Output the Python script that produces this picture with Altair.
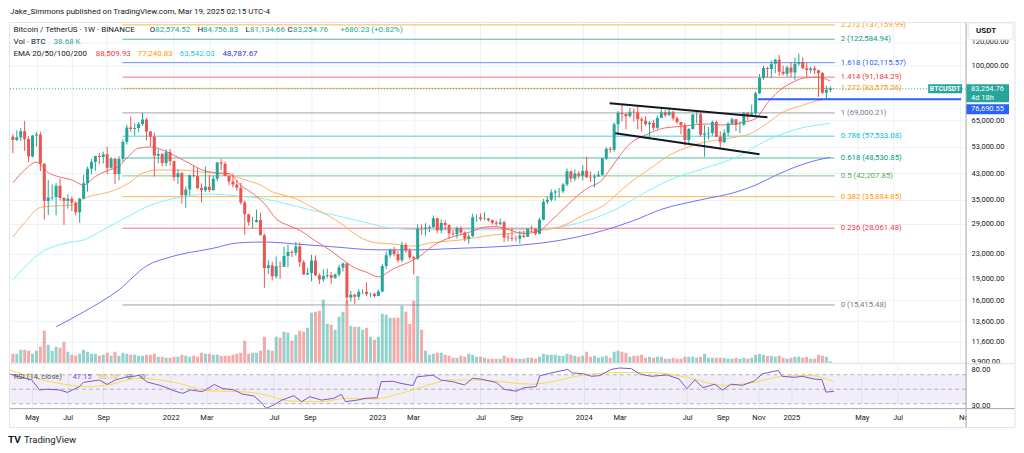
import altair as alt
import pandas as pd

FONT = "Roboto"
INK = "#131722"
GREEN = "#26a69a"
RED = "#ef5350"
GRID = "#edf1f7"
FRAME = "#e0e3eb"
SEP = "#a3a6af"
W, H_PRICE, H_RSI = 959, 341, 44

# ---------------- data ----------------
week_start = [d.strftime("%Y-%m-%d") for d in pd.date_range("2021-03-22", periods=209, freq="7D")]
first_open = 57350

closes = [
    # 2021 (from Mar 22)
    55820, 57060, 59770, 56250, 49100, 57800, 58240, 46430, 34680, 35680,
    35800, 39100, 35500, 34700, 35290, 34240, 31780, 35400, 39880, 44600,
    47080, 49300, 48900, 49940, 45000, 48300, 42800, 48200, 54950, 61530,
    60850, 61300, 63270, 65500, 59700, 57270, 49400, 50100, 46680, 50780,
    47290,
    # 2022
    41860, 43080, 36280, 37920, 42410, 42200, 38380, 37700, 38790, 37780,
    41260, 46830, 46400, 42150, 40380, 39450, 38470, 34280, 31300, 29450,
    29450, 29920, 26570, 20550, 21030, 19300, 20850, 20790, 22580, 23300,
    23180, 24310, 21530, 19560, 19800, 21800, 19420, 18800, 19310, 19420,
    19070, 19570, 20630, 21300, 16330, 16700, 16430, 17090, 17100, 16780,
    16840, 16540,
    # 2023
    17130, 20880, 22700, 23740, 22930, 21860, 24630, 23560, 22350, 22120,
    27980, 27940, 28170, 28320, 30300, 27590, 29230, 28780, 26930, 26750,
    28080, 27120, 25840, 26340, 30540, 30590, 30170, 30290, 29860, 29280,
    29040, 29410, 26090, 26010, 25860, 25840, 26530, 26250, 27970, 27920,
    26850, 29990, 34500, 35010, 37060, 37360, 37450, 39470, 43790, 41360,
    43010, 42280,
    # 2024
    43930, 41730, 41580, 42030, 42580, 48300, 52140, 51730, 63110, 68950,
    68390, 67210, 69650, 69360, 65660, 64940, 63120, 63900, 61480, 66270,
    69290, 67760, 69650, 66220, 64260, 62680, 55850, 60800, 68160, 68250,
    58160, 58710, 58970, 64220, 57300, 54850, 59130, 63580, 65600, 62820,
    62850, 69030, 68020, 68780, 80370, 90580, 97900, 97190, 101170, 104460,
    95190, 93720, 98300,
    # 2025
    94510, 101330, 102620, 97700, 96460, 97570, 96250, 94270, 80730, 82574.52,
    83254.76,
]
highs = [
    58400, 60200, 61300, 64850, 57500, 58000, 59500, 59600, 46600, 40840,
    39480, 40000, 41330, 35750, 36600, 35950, 34700, 35500, 42600, 45300,
    48150, 49380, 50500, 51050, 52920, 48850, 48500, 49250, 56000, 62900,
    67000, 63700, 64300, 69000, 66300, 59900, 59200, 51950, 50400, 51900,
    52100,
    47570, 44450, 43500, 38900, 42660, 45850, 44750, 39850, 45400, 42600,
    42350, 47000, 48190, 47200, 42450, 42950, 40800, 40000, 34800, 31330,
    30670, 32400, 31700, 26880, 21870, 21580, 22500, 21650, 24300, 24670,
    23650, 25200, 25130, 21880, 20580, 22800, 22700, 19700, 20350, 20480,
    19950, 19700, 21080, 21480, 21450, 17190, 16810, 17420, 17430, 18390,
    16960, 16950,
    17400, 21260, 23370, 23950, 24250, 23450, 25250, 25020, 24000, 22600,
    28950, 28870, 29190, 28700, 31000, 30500, 30040, 29850, 28890, 27660,
    28450, 28450, 27400, 26800, 31430, 31280, 31500, 31800, 30400, 30000,
    29750, 30250, 29690, 26850, 28140, 26440, 27480, 27480, 28060, 28600,
    28000, 30400, 35280, 35980, 37980, 37980, 38450, 39880, 44700, 44000,
    44400, 43800,
    45880, 49050, 43580, 42840, 43880, 48600, 52820, 52980, 64000, 69990,
    73780, 68930, 71770, 71350, 72800, 66870, 67230, 64740, 65500, 67700,
    71950, 70600, 71950, 70200, 66950, 63860, 63850, 61400, 68380, 69400,
    70080, 62740, 61800, 65000, 64960, 59800, 60660, 64130, 66500, 65550,
    64480, 69400, 69520, 73620, 81500, 93480, 99590, 98940, 103900, 105250,
    108350, 99960, 99800,
    102720, 106000, 109590, 106460, 102500, 98830, 99500, 96500, 95000, 85300,
    84756.83,
]
lows = [
    50430, 55400, 55470, 51300, 47000, 48800, 53000, 43800, 30000, 31100,
    34800, 31000, 34800, 28800, 32700, 32070, 31000, 29280, 35200, 37330,
    42800, 43950, 46300, 46500, 42850, 44700, 39600, 40750, 47100, 53900,
    59550, 57800, 59400, 62300, 55600, 53250, 42000, 46600, 45500, 45550,
    45700,
    40600, 39650, 34000, 32900, 36250, 41700, 38000, 34320, 37200, 37150,
    37550, 40470, 44200, 42100, 39200, 38550, 37580, 33700, 26700, 28600,
    28000, 29300, 26560, 17620, 19600, 18650, 19000, 18900, 20750, 20700,
    22400, 22650, 20750, 19530, 19520, 18540, 19320, 18150, 18470, 19000,
    18190, 18900, 19250, 20040, 15590, 15820, 15476, 16050, 16750, 16550,
    16400, 16330,
    16500, 17000, 20400, 22300, 22500, 21450, 21530, 23100, 21970, 19550,
    21900, 26600, 26500, 27200, 28170, 27000, 26950, 27650, 25800, 26350,
    25880, 26600, 25300, 24800, 26250, 29500, 29700, 29950, 29500, 28850,
    28580, 28700, 25170, 25350, 25340, 25330, 24900, 26010, 26150, 27170,
    26530, 26780, 29850, 33850, 34520, 34800, 35630, 36870, 38980, 40180,
    40500, 41300,
    40750, 41500, 40280, 38550, 41880, 42260, 47700, 50520, 50900, 59000,
    64550, 60760, 66500, 64490, 60660, 59600, 62400, 56550, 60190, 60750,
    66600, 66670, 67600, 65080, 63380, 58400, 53480, 54250, 60630, 63450,
    57120, 49000, 56080, 57790, 57200, 52550, 54580, 57500, 62700, 59830,
    58900, 62450, 65050, 67480, 66830, 79800, 89380, 90790, 90500, 94150,
    92180, 92500, 91530,
    91200, 89250, 99550, 97000, 91230, 94100, 93390, 78260, 80000, 76606,
    81134.66,
]
volume_k = [  # thousand BTC per week
    225, 225, 325, 325, 300, 225, 300, 400, 800, 450,
    300, 400, 375, 525, 275, 200, 175, 225, 325, 275,
    225, 225, 175, 200, 250, 175, 275, 175, 250, 225,
    200, 200, 175, 175, 200, 200, 225, 150, 150, 125,
    125, 150, 150, 200, 175, 150, 175, 150, 250, 225,
    225, 200, 200, 175, 175, 175, 200, 225, 250, 550,
    225, 250, 250, 300, 650, 325, 300, 650, 625, 775,
    750, 550, 700, 800, 775, 875, 1250, 1275, 1300, 1575,
    975, 950, 825, 1150, 1275, 1550, 925, 900, 900, 825,
    875, 650, 575, 650, 1225, 1200, 1125, 1125, 1125, 1425,
    1275, 975, 1550, 2175, 825, 300, 200, 225, 250, 250,
    200, 175, 125, 125, 175, 150, 225, 200, 150, 150,
    125, 100, 100, 100, 100, 175, 125, 125, 100, 100,
    100, 125, 125, 100, 150, 225, 200, 200, 200, 175,
    175, 225, 200, 175, 150, 175, 275, 150, 175, 125,
    150, 175, 125, 275, 300, 275, 250, 150, 175, 175,
    200, 125, 150, 125, 150, 150, 100, 100, 125, 100,
    100, 150, 150, 150, 125, 150, 225, 125, 125, 125,
    125, 125, 100, 100, 125, 100, 125, 100, 125, 200,
    225, 200, 175, 175, 150, 175, 125, 100, 125, 150,
    150, 125, 150, 100, 100, 200, 175, 150, 38.68,
]
assert len(closes) == len(highs) == len(lows) == len(volume_k) == len(week_start) == 209

# EMA readings (bar index -> value)
ema20_idx = [0, 3, 6, 9, 12, 15, 18, 21, 24, 27, 29, 32, 35, 38, 42, 45, 48, 52, 55, 58,
             61, 64, 67, 70, 73, 77, 81, 84, 87, 90, 93, 97, 100, 103, 107, 111, 114, 117, 120, 123,
             126, 130, 134, 137, 140, 143, 146, 150, 152, 154, 156, 158, 160, 162, 165, 168, 171, 174, 177, 180,
             183, 186, 189, 192, 195, 198, 201, 204, 206, 208]
ema20_val = [40000, 44200, 47000, 43300, 41800, 40900, 39300, 42000, 44000, 45500, 48500, 52400, 52900, 51700, 48800, 46500, 44300, 43200, 43000, 39200,
             36800, 34000, 30200, 28700, 27600, 25400, 23500, 21900, 20600, 19900, 19200, 20500, 21300, 22300, 24500, 26000, 26700, 27400, 28300, 28400,
             27800, 26900, 27500, 29800, 32500, 35500, 38200, 41000, 44500, 48500, 52500, 55500, 57300, 58800, 61000, 61800, 62300, 63000, 63300, 62800,
             63100, 64200, 66000, 74500, 82000, 87000, 90400, 91200, 90600, 88509.93]
ema50_idx = [0, 3, 7, 11, 15, 19, 23, 26, 30, 33, 37, 42, 48, 55, 60, 63, 66, 69, 72, 76,
             80, 84, 88, 92, 97, 102, 106, 114, 122, 130, 139, 145, 151, 155, 159, 163, 167, 172, 176, 180,
             184, 188, 192, 196, 201, 204, 207, 208]
ema50_val = [26200, 29300, 33000, 33400, 33600, 35800, 36800, 37800, 40300, 43100, 44200, 44200, 43500, 42500, 40600, 39300, 37300, 36300, 35300, 33100,
             31100, 28800, 26300, 25100, 24800, 24400, 25000, 25600, 26600, 27200, 28300, 31000, 34000, 38000, 41800, 45500, 49500, 53000, 54900, 56000,
             57100, 58900, 63700, 69500, 73200, 75500, 76800, 77240.83]
ema100_idx = [0, 7, 15, 18, 23, 30, 34, 43, 50, 57, 64, 69, 76, 83, 89, 96, 106, 122, 135, 139,
              145, 153, 160, 167, 176, 184, 192, 201, 208]
ema100_val = [18750, 23100, 25200, 25600, 27700, 31100, 33100, 35800, 36600, 36100, 35300, 34100, 32300, 30800, 29500, 28100, 27700, 27700, 27900, 28300,
              29500, 32300, 36500, 40800, 44800, 48800, 55800, 61500, 63542.03]
ema200_idx = [11, 18, 27, 34, 40, 51, 57, 64, 69, 72, 81, 93, 102, 114, 126, 139, 150, 158, 165, 175,
              184, 189, 194, 199, 204, 208]
ema200_val = [13000, 14600, 17350, 20900, 22400, 24000, 25000, 25200, 25000, 24800, 24300, 23700, 23700, 24000, 24400, 25500, 27500, 29800, 32500, 35000,
              37200, 39300, 42300, 45200, 47500, 48787.67]

# RSI(14) and its moving average (bar index -> value)
rsi_idx = [0, 3, 6, 8, 10, 13, 15, 18, 19, 23, 25, 27, 30, 32, 33, 35, 38, 40, 42, 44,
           46, 49, 52, 54, 57, 59, 62, 64, 65, 67, 69, 72, 74, 76, 79, 82, 84, 85, 88, 90,
           93, 94, 97, 99, 102, 103, 107, 109, 112, 115, 117, 119, 123, 125, 128, 130, 133, 134, 137, 141,
           142, 145, 147, 149, 152, 154, 157, 159, 162, 166, 169, 171, 173, 175, 178, 180, 182, 185, 188, 190,
           194, 195, 198, 200, 203, 205, 206, 207, 208]
rsi_val = [71.8, 67, 63, 49, 50, 49, 45.6, 53.5, 59.4, 62.7, 56.6, 62.7, 67, 68, 69.5, 60, 55.8, 52, 47.5, 44.3,
           49, 46.6, 56.6, 51, 49, 43.4, 40.6, 30.5, 23.6, 28.2, 35, 41, 32.8, 39.7, 35, 37.4, 42.9, 32.8, 35, 37.4,
           38.3, 60.4, 61, 58, 55, 67, 69.5, 62.7, 60.4, 55.8, 65, 64.1, 59.3, 49.8, 47.3, 52.1, 53.5, 68.8, 72.6, 77.4,
           72.6, 71.2, 67.8, 68.8, 77.4, 79.3, 78.4, 71.2, 67.8, 69.7, 64.1, 50.8, 63.1, 52.1, 56.9, 48.8, 56.9, 55.4, 61.7, 71.2,
           75.9, 67.8, 66.4, 67.8, 64.1, 63.1, 46.0, 46.6, 47.15]
rsima_idx = [0, 13, 20, 25, 33, 42, 51, 59, 65, 71, 79, 85, 92, 99, 106, 111, 119, 132, 136, 145,
             154, 162, 171, 180, 188, 195, 202, 208]
rsima_val = [76.9, 58, 53.5, 55.8, 65, 59.4, 47.5, 46.6, 42, 33.7, 32.8, 37.4, 36.5, 44.3, 55.8, 62.7, 62.5, 56.9, 59.3, 69.7,
             73, 73, 66.4, 55.4, 59.3, 67.8, 68.8, 60.16]

# Fibonacci extension levels
fib_ratio = ["2.272", "2", "1.618", "1.414", "1.272", "1", "0.786", "0.618", "0.5", "0.382", "0.236", "0"]
fib_price = [137159.99, 122584.94, 102115.57, 91184.29, 83575.26, 69000.21, 57533.08, 48530.85, 42207.85, 35884.85, 28061.48, 15415.48]
fib_color = ["#ff9800", "#089981", "#2962ff", "#f23645", "#ff9800", "#787b86", "#00bcd4", "#089981", "#4caf50", "#ff9800", "#f23645", "#787b86"]
fib_start, fib_end = "2021-10-03", "2025-03-25"

# drawn trend lines (channel)
trend_line = ["upper", "upper", "lower", "lower"]
trend_date = ["2024-02-18", "2024-11-25", "2024-02-28", "2024-11-11"]
trend_price = [74370, 66700, 58890, 50010]

support_price = 76690.55
support_start = "2024-11-08"
last_price = 83254.76

price_ticks = [9900, 11600, 13600, 16000, 19000, 23000, 29000, 35000, 43000, 53000, 65000, 100000, 120000]
tick_dates = ["2021-05-03", "2021-07-05", "2021-09-06", "2022-01-03", "2022-03-07", "2022-07-04", "2022-09-05",
              "2023-01-02", "2023-03-06", "2023-07-03", "2023-09-04", "2024-01-01", "2024-03-04", "2024-07-01",
              "2024-09-02", "2024-11-04", "2025-01-01", "2025-05-05", "2025-07-07", "2025-11-03"]


def ms(s):
    return int(pd.Timestamp(s, tz="UTC").value // 10**6)


X_END = "2025-11-05"
XS = alt.Scale(type="utc", domain=[ms("2021-03-24"), ms(X_END)], nice=False)
PS = alt.Scale(type="log", domain=[9822, 139800], nice=False)
VS = alt.Scale(domain=[0, 8525], nice=False, zero=True)
RS = alt.Scale(domain=[23.2, 83.8], nice=False, zero=False)
tick_ms = [ms(d) for d in tick_dates]

# identical axis definitions are given to every layer that uses a scale
PRICE_AXIS = alt.Axis(orient="right", values=price_ticks, format=",.2f", labelAlign="left", labelPadding=5,
                      ticks=False, domain=False, grid=True, gridColor=GRID, title=None, labelFlush=False,
                      labelOverlap=False, labelFontSize=7.5, labelColor=INK, labelFont=FONT)
PRICE_X_AXIS = alt.Axis(title=None, labels=False, ticks=False, domain=False, grid=True, gridColor=GRID,
                        values=tick_ms)
RSI_AXIS = alt.Axis(orient="right", values=[80, 30], format=".2f", labelAlign="left", labelPadding=5,
                    labelOffset=2, ticks=False, domain=False, grid=False, title=None, labelFlush=False,
                    labelFontSize=7.5, labelColor=INK, labelFont=FONT)
X_AXIS = alt.Axis(values=tick_ms, title=None, ticks=False, domain=False, grid=True, gridColor=GRID,
                  labelPadding=5, labelFlush=False, labelOverlap=False, labelFontSize=7.5, labelColor=INK,
                  labelFont=FONT,
                  labelExpr="utcFormat(datum.value, '%m') == '01' ? utcFormat(datum.value, '%Y') : utcFormat(datum.value, '%b')")

opens = [first_open] + closes[:-1]
candles = pd.DataFrame({"date": week_start, "open": opens, "high": highs, "low": lows,
                        "close": closes, "vol": volume_k})
candles["dir"] = ["up" if c >= o else "down" for o, c in zip(opens, closes)]
DIR_COLOR = alt.Color("dir:N", scale=alt.Scale(domain=["up", "down"], range=[GREEN, RED]), legend=None)


def xenc(field="date:T"):
    return alt.X(field, scale=XS, axis=PRICE_X_AXIS)


def yenc(field):
    return alt.Y(field, type="quantitative", scale=PS, axis=PRICE_AXIS)


def txt(s, x, y, color=INK, size=8, weight="normal", align="left", baseline="middle", font=FONT):
    return alt.Chart(pd.DataFrame({"t": [s]})).mark_text(
        align=align, baseline=baseline, fontSize=size, fontWeight=weight, color=color, font=font
    ).encode(x=alt.value(x), y=alt.value(y), text="t:N")


def box(x1, x2, y1, y2, fill, stroke=None, radius=0, fill_opacity=1.0):
    kw = dict(fill=fill, cornerRadius=radius, fillOpacity=fill_opacity)
    if stroke:
        kw.update(stroke=stroke, strokeWidth=1)
    return alt.Chart(pd.DataFrame({"a": [0]})).mark_rect(**kw).encode(
        x=alt.value(x1), x2=alt.value(x2), y=alt.value(y1), y2=alt.value(y2))


def hline(x1, x2, y, color, width=1):
    return alt.Chart(pd.DataFrame({"a": [0]})).mark_rule(color=color, strokeWidth=width).encode(
        x=alt.value(x1), x2=alt.value(x2), y=alt.value(y))


def vline(x, y1, y2, color, width=1):
    return alt.Chart(pd.DataFrame({"a": [0]})).mark_rule(color=color, strokeWidth=width).encode(
        x=alt.value(x), y=alt.value(y1), y2=alt.value(y2))


def price_box(price, x1, x2, off1, off2, fill):
    return alt.Chart(pd.DataFrame({"p": [price]})).mark_rect(fill=fill, yOffset=off1, y2Offset=off2).encode(
        x=alt.value(x1), x2=alt.value(x2), y=yenc("p"), y2="p:Q")


def price_txt(s, price, x, dy, align="left", size=7.5, weight="normal"):
    return alt.Chart(pd.DataFrame({"p": [price], "t": [s]})).mark_text(
        align=align, baseline="middle", dy=dy, fontSize=size, fontWeight=weight, color="white", font=FONT
    ).encode(x=alt.value(x), y=yenc("p"), text="t:N")


# ---------------- price pane ----------------
volume = alt.Chart(candles).mark_bar(size=3, opacity=0.5, clip=True).encode(
    x=xenc(),
    y=alt.Y("vol:Q", scale=VS, axis=None),
    color=DIR_COLOR,
)

fib = pd.DataFrame({"label": [f"{r} ({p:,.2f})" for r, p in zip(fib_ratio, fib_price)],
                    "price": fib_price, "start": fib_start, "end": fib_end})
FIB_COLOR = alt.Color("label:N", scale=alt.Scale(domain=fib["label"].tolist(), range=fib_color), legend=None)
fib_rules = alt.Chart(fib).mark_rule(strokeWidth=1, opacity=0.7).encode(
    x=xenc("start:T"), x2="end:T", y=yenc("price"), color=FIB_COLOR)
fib_text = alt.Chart(fib).mark_text(align="left", baseline="middle", dx=6, fontSize=7.8, font=FONT).encode(
    x=xenc("end:T"), y=yenc("price"), text="label:N", color=FIB_COLOR)

last_line = alt.Chart(pd.DataFrame({"p": [last_price]})).mark_rule(
    color=GREEN, strokeDash=[1, 2], strokeWidth=1).encode(y=yenc("p"))


def ema_chart(idx, vals, color):
    df = pd.DataFrame({"date": [week_start[i] for i in idx], "v": vals})
    return alt.Chart(df).mark_line(color=color, strokeWidth=1, interpolate="monotone", clip=True).encode(
        x=xenc(), y=yenc("v"))


ema_lines = [
    ema_chart(ema200_idx, ema200_val, "#6f6fff"),
    ema_chart(ema100_idx, ema100_val, "#7ef2f7"),
    ema_chart(ema50_idx, ema50_val, "#ffb062"),
    ema_chart(ema20_idx, ema20_val, "#f26a6a"),
]

wicks = alt.Chart(candles).mark_rule(strokeWidth=1, clip=True).encode(
    x=xenc(), y=yenc("low"), y2="high:Q", color=DIR_COLOR)
bodies = alt.Chart(candles).mark_bar(size=3, clip=True).encode(
    x=xenc(), y=yenc("open"), y2="close:Q", color=DIR_COLOR)

trend = pd.DataFrame({"line": trend_line, "date": trend_date, "price": trend_price})
trend_lines = alt.Chart(trend).mark_line(color=INK, strokeWidth=2).encode(
    x=xenc(), y=yenc("price"), detail="line:N")

support = alt.Chart(pd.DataFrame({"s": [support_start], "e": [X_END], "p": [support_price]})).mark_rule(
    color="#2962ff", strokeWidth=2).encode(x=xenc("s:T"), x2="e:T", y=yenc("p"))

legend_layers = [
    txt("Jake_Simmons published on TradingView.com, Mar 19, 2025 02:15 UTC-4", 1, -10, INK, 8),
    txt("Bitcoin / TetherUS · 1W · BINANCE", 4.5, 8, INK, 8),
    txt("O", 141, 8, INK, 8), txt("82,574.52", 146.5, 8, GREEN, 8),
    txt("H", 189, 8, INK, 8), txt("84,756.83", 194.5, 8, GREEN, 8),
    txt("L", 237, 8, INK, 8), txt("81,134.66", 241.5, 8, GREEN, 8),
    txt("C", 279, 8, INK, 8), txt("83,254.76", 284.5, 8, GREEN, 8),
    txt("+680.23 (+0.82%)", 332, 8, GREEN, 8),
    txt("Vol · BTC", 4.5, 20, INK, 8), txt("38.68 K", 44.7, 20, GREEN, 8),
    txt("EMA 20/50/100/200", 4.5, 31.5, INK, 8),
    txt("88,509.93", 87, 31.5, "#f23645", 8),
    txt("77,240.83", 129, 31.5, "#ff9800", 8),
    txt("63,542.03", 171, 31.5, "#22c7dc", 8),
    txt("48,787.67", 214, 31.5, "#3030d0", 8),
]

right_boxes = [
    box(961, 1006, 0.5, 17.5, "white", stroke=FRAME, radius=3),
    txt("USDT", 969, 8.5, INK, 8, weight="bold"),
    price_box(last_price, 921, 955, -4.5, 4.5, GREEN),
    price_txt("BTCUSDT", last_price, 938, 0, align="center", size=7, weight="bold"),
    price_box(last_price, 959, 1002, -4.5, 13.5, GREEN),
    price_txt("83,254.76", last_price, 964, 0),
    price_txt("4d 18h", last_price, 964, 9),
    price_box(support_price, 959, 1002, 5, 15, "#2962ff"),
    price_txt("76,690.55", support_price, 964, 10),
]

price_layers = alt.layer(
    fib_rules, last_line, *ema_lines, wicks, bodies, trend_lines, support, fib_text,
    *legend_layers, *right_boxes,
).resolve_scale(color="independent")

price_panel = alt.layer(volume, price_layers).resolve_scale(
    y="independent", color="independent").properties(width=W, height=H_PRICE)

# ---------------- RSI pane ----------------
def ry(field):
    return alt.Y(field, type="quantitative", scale=RS, axis=RSI_AXIS)


band = alt.Chart(pd.DataFrame({"hi": [70], "lo": [30]})).mark_rect(color="#7e57c2", opacity=0.1).encode(
    x=alt.value(0), x2=alt.value(W), y=ry("hi"), y2="lo:Q")
bands = alt.Chart(pd.DataFrame({"v": [70, 50, 30]})).mark_rule(
    color="#9598a1", strokeDash=[4, 3], strokeWidth=1, opacity=0.7).encode(y=ry("v"))
rsi_df = pd.DataFrame({"date": [week_start[i] for i in rsi_idx], "v": rsi_val})
rsima_df = pd.DataFrame({"date": [week_start[i] for i in rsima_idx], "v": rsima_val})
rsi_ma = alt.Chart(rsima_df).mark_line(color="#f5dc45", strokeWidth=1, interpolate="monotone", clip=True).encode(
    x=alt.X("date:T", scale=XS, axis=X_AXIS), y=ry("v"))
rsi_line = alt.Chart(rsi_df).mark_line(color="#7e57c2", strokeWidth=1, clip=True).encode(
    x=alt.X("date:T", scale=XS, axis=X_AXIS), y=ry("v"))

rsi_decor = [
    txt("RSI (14, close)", 4.7, 12, "#50535e", 7.6),
    txt("47.15", 63.7, 12, "#7e57c2", 7.6),
    txt("60.16", 90.3, 12, "#e8c52a", 7.6),
    txt("⊘", 120.5, 12, "#787b86", 8, align="center", font="DejaVu Sans"),
    txt("⊘", 133.5, 12, "#787b86", 8, align="center", font="DejaVu Sans"),
    box(959.5, 1008, 44.5, 62.5, "white"),
    hline(0, 1008, -1, FRAME),
    hline(0, 1008, 44, SEP),
    vline(959, -343, 63, SEP),
    box(0.5, 1008, -343, 63, "white", stroke=FRAME, fill_opacity=0.0),
    txt("TV", 5.5, 75, INK, 10, weight="bold", align="center"),
    txt("TradingView", 15, 75, INK, 9.5),
]

rsi_panel = alt.layer(band, bands, rsi_ma, rsi_line, *rsi_decor).properties(width=W, height=H_RSI)

chart = alt.vconcat(price_panel, rsi_panel, spacing=2, bounds="flush").properties(
    padding=0
).configure_view(stroke=None).configure_axis(labelFont=FONT)

chart.save("out.html", embed_options={"renderer": "svg", "actions": False})
